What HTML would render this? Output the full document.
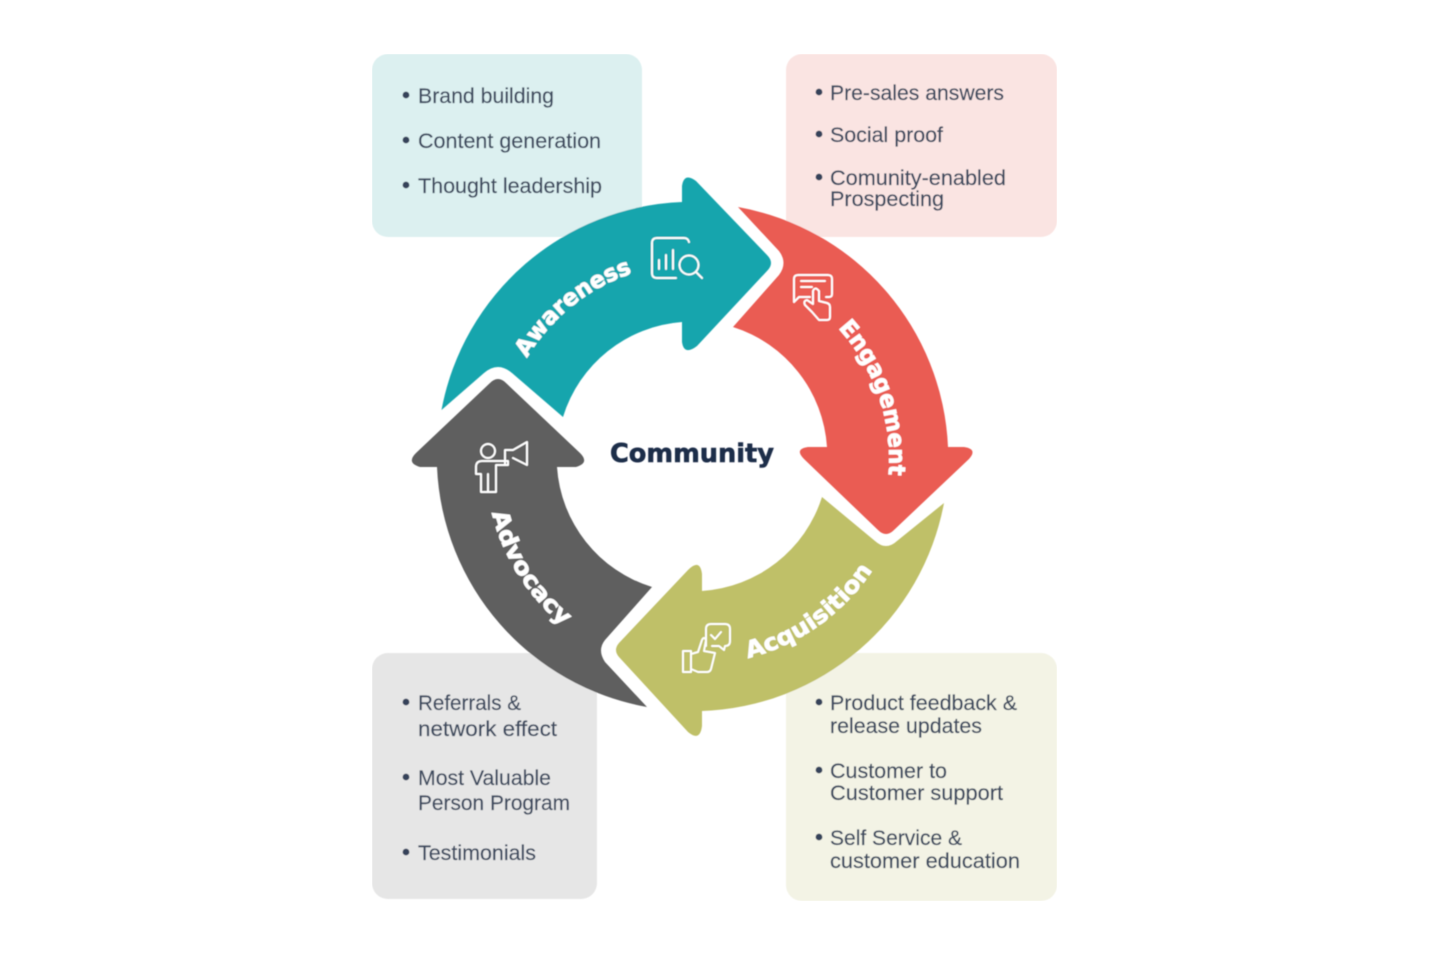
<!DOCTYPE html>
<html>
<head>
<meta charset="utf-8">
<style>
html,body{margin:0;padding:0;background:#fff;}
svg{display:block;}
.t{font-family:"Liberation Sans",sans-serif;font-size:21px;fill:#3c4a5e;stroke:#3c4a5e;stroke-width:.2px;}
.l{font-family:"DejaVu Sans",sans-serif;font-weight:bold;font-size:23px;fill:#fff;stroke:#fff;stroke-width:.7px;}
.i{fill:none;stroke:#fff;stroke-width:2;stroke-linejoin:round;stroke-linecap:round;}
</style>
</head>
<body>
<svg width="1456" height="953" viewBox="0 0 1456 953" xmlns="http://www.w3.org/2000/svg">
<defs>
<filter id="soft" x="0" y="0" width="100%" height="100%"><feGaussianBlur stdDeviation="0.45"/></filter>
<path id="pa" d="M527 358 A193 193 0 0 1 636 272"/>
<path id="pe" d="M838 328 A194 194 0 0 1 888 480"/>
<path id="pq" d="M748 658 A210 210 0 0 0 874 568"/>
<path id="pd" d="M492 513 A210 210 0 0 0 566 628"/>
</defs>
<rect x="0" y="0" width="1456" height="953" fill="#fff"/>
<g filter="url(#soft)">
<rect x="372" y="54" width="270" height="183" rx="16" fill="#dcf0f0"/>
<rect x="786" y="54" width="271" height="183" rx="16" fill="#fae4e2"/>
<rect x="372" y="653" width="225" height="246" rx="16" fill="#e6e6e6"/>
<rect x="786" y="653" width="271" height="248" rx="16" fill="#f3f3e5"/>

<path fill="#17a5ad" d="M441.5 410 A255 255 0 0 1 682 202 L682 186 Q684 172 696 181 L767 255 Q775 263 767 271 L697 346 Q684 356 682 342 L682 322 A135 135 0 0 0 563 417 L512 373 Q498 361 484 373 Z"/>
<path fill="#ea5b52" d="M738 207 A255 255 0 0 1 948 447 L964 447 Q978 449 969 459 L894 530 Q886 538 878 530 L804 459 Q794 449 808 447 L827 447 A135 135 0 0 0 733 327 L779 275 Q788 263 779 251 Z"/>
<path fill="#bfc067" d="M944 503 A255 255 0 0 1 702 711 L702 726 Q700 742 688 732 L619 657 Q613 650 619 643 L688 570 Q700 558 702 574 L702 591 A135 135 0 0 0 822 497 L875 541 Q886 551 897 541 Z"/>
<path fill="#5f5f5f" d="M647 707 A255 255 0 0 1 437 467 L420 467 Q406 463 416 453 L490 383 Q498 375 506 383 L580 453 Q590 463 576 467 L557 467 A135 135 0 0 0 652 587 L605 640 Q597 650 605 662 Z"/>

<text class="l"><textPath href="#pa" textLength="138" lengthAdjust="spacingAndGlyphs">Awareness</textPath></text>
<text class="l"><textPath href="#pe" textLength="160" lengthAdjust="spacingAndGlyphs">Engagement</textPath></text>
<text class="l"><textPath href="#pq" textLength="156" lengthAdjust="spacingAndGlyphs">Acquisition</textPath></text>
<text class="l"><textPath href="#pd" textLength="136" lengthAdjust="spacingAndGlyphs">Advocacy</textPath></text>

<text x="610" y="462" font-family="'DejaVu Sans',sans-serif" font-weight="bold" font-size="26" fill="#1f2d4a" stroke="#1f2d4a" stroke-width=".6" textLength="164" lengthAdjust="spacingAndGlyphs">Community</text>

<!-- Awareness icon -->
<g class="i">
<path d="M689 242 Q688 238 684 238 L657 238 Q652 238 652 243 L652 273 Q652 278 657 278 L676 278"/>
<path d="M659 260V269M666 255V269M673 250V269"/>
<circle cx="689" cy="265" r="9.5"/>
<path d="M696 272L702 278"/>
</g>
<!-- Engagement icon -->
<g class="i">
<path d="M810 297 L799 297 L794 302 L794 279 Q794 275 798 275 L828 275 Q832 275 832 279 L832 294 Q832 297 829 297 L826 297"/>
<path d="M801 281H825M801 287H812"/>
<path d="M812 312 L805 305 Q803 301 807 300 L813 304 L813 291 Q815 286 819 291 L819 301 L827 303 Q830 304 830 307 L830 317 Q830 320 827 320 L819 320 Z"/>
</g>
<!-- Acquisition icon -->
<g class="i">
<path d="M683 651 L691 651 L691 672 L683 672 Z"/>
<path d="M691 654 L698 652 L702 640 Q704 636 706 640 L704 651 L715 653 L711 669 Q710 672 707 672 L698 672 L691 669"/>
<path d="M706 646 L706 629 Q706 624 711 624 L725 624 Q730 624 730 629 L730 641 Q730 646 725 646 L724 650 L719 646 L712 646"/>
<path d="M711 635 L715 639 L721 632"/>
</g>
<!-- Advocacy icon -->
<g class="i">
<circle cx="488" cy="451" r="7"/>
<path d="M481 492 L481 474 L476 474 L476 467 Q476 461 482 461 L494 461 L505 461 L508 461 L508 465 L496 465 L496 492 Z M488 474 L488 492"/>
<path d="M505 465 L505 450 L513 450 L527 442 L527 465 L513 458"/>
</g>

<g fill="#35425a">
<circle cx="406" cy="95" r="3.4"/><circle cx="406" cy="140" r="3.4"/><circle cx="406" cy="185" r="3.4"/>
<circle cx="819" cy="92" r="3.4"/><circle cx="819" cy="134" r="3.4"/><circle cx="819" cy="177" r="3.4"/>
<circle cx="406" cy="702" r="3.4"/><circle cx="406" cy="777" r="3.4"/><circle cx="406" cy="852" r="3.4"/>
<circle cx="819" cy="702" r="3.4"/><circle cx="819" cy="770" r="3.4"/><circle cx="819" cy="837" r="3.4"/>
</g>

<text class="t" x="418" y="103" textLength="136" lengthAdjust="spacingAndGlyphs">Brand building</text>
<text class="t" x="418" y="148" textLength="183" lengthAdjust="spacingAndGlyphs">Content generation</text>
<text class="t" x="418" y="193" textLength="184" lengthAdjust="spacingAndGlyphs">Thought leadership</text>

<text class="t" x="830" y="100" textLength="174" lengthAdjust="spacingAndGlyphs">Pre-sales answers</text>
<text class="t" x="830" y="142" textLength="113" lengthAdjust="spacingAndGlyphs">Social proof</text>
<text class="t" x="830" y="185" textLength="176" lengthAdjust="spacingAndGlyphs">Comunity-enabled</text>
<text class="t" x="830" y="206" textLength="114" lengthAdjust="spacingAndGlyphs">Prospecting</text>

<text class="t" x="418" y="710" textLength="103" lengthAdjust="spacingAndGlyphs">Referrals &amp;</text>
<text class="t" x="418" y="736" textLength="139" lengthAdjust="spacingAndGlyphs">network effect</text>
<text class="t" x="418" y="785" textLength="133" lengthAdjust="spacingAndGlyphs">Most Valuable</text>
<text class="t" x="418" y="810" textLength="152" lengthAdjust="spacingAndGlyphs">Person Program</text>
<text class="t" x="418" y="860" textLength="118" lengthAdjust="spacingAndGlyphs">Testimonials</text>

<text class="t" x="830" y="710" textLength="187" lengthAdjust="spacingAndGlyphs">Product feedback &amp;</text>
<text class="t" x="830" y="733" textLength="152" lengthAdjust="spacingAndGlyphs">release updates</text>
<text class="t" x="830" y="778" textLength="117" lengthAdjust="spacingAndGlyphs">Customer to</text>
<text class="t" x="830" y="800" textLength="173" lengthAdjust="spacingAndGlyphs">Customer support</text>
<text class="t" x="830" y="845" textLength="132" lengthAdjust="spacingAndGlyphs">Self Service &amp;</text>
<text class="t" x="830" y="868" textLength="190" lengthAdjust="spacingAndGlyphs">customer education</text>
</g>
</svg>
</body>
</html>
